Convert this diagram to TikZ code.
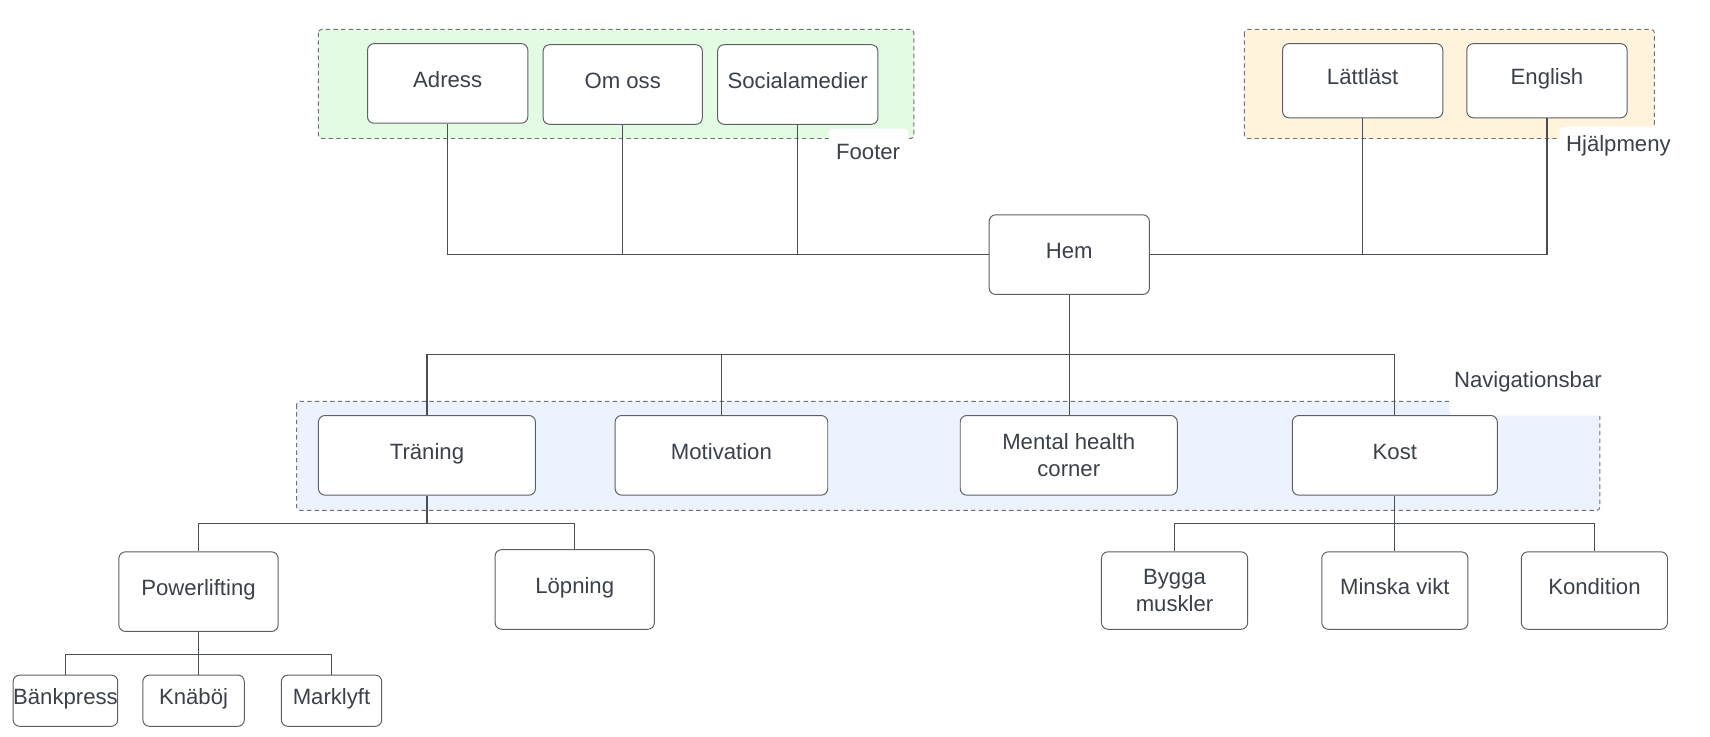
\documentclass[tikz,border=0pt]{standalone}
\usepackage{fontspec}
\setmainfont{Liberation Sans}
\definecolor{txt}{HTML}{3A414A}
\definecolor{boxc}{HTML}{5C6066}
\definecolor{linec}{HTML}{4A4F55}
\definecolor{grpc}{HTML}{6E7378}
\definecolor{fgreen}{HTML}{E3FAE3}
\definecolor{forange}{HTML}{FFF3DC}
\definecolor{fblue}{HTML}{ECF3FE}
\begin{document}
\begin{tikzpicture}[x=1pt,y=-1pt,
  box/.style={draw=boxc, rounded corners=6pt, fill=white, line width=0.9pt, text=txt, align=center, inner sep=0pt, font=\fontsize{20.3}{24.5}\selectfont},
  one/.style={text height=14.6pt, text depth=7.4pt},
  conn/.style={draw=linec, line width=1pt},
  grp/.style={draw=grpc, dash pattern=on 4pt off 3pt, line width=0.9pt, rounded corners=3pt},
  patch/.style={fill=white, draw=none, rounded corners=4pt},
  lbl/.style={text=txt, inner sep=0pt, font=\fontsize{20.3}{24.5}\selectfont}]
\useasboundingbox (0,0) rectangle (1568,675);
% groups
\draw[grp, fill=fgreen] (292,27) rectangle (838,127);
\draw[grp, fill=forange] (1141,27) rectangle (1517,127);
\draw[grp, fill=fblue] (272,368) rectangle (1467,468);
% label patches
\fill[patch] (760,118) rectangle (833,160);
\fill[patch] (1430,116) rectangle (1540,152);
\fill[patch] (1329,335) rectangle (1475,381);
\node[lbl] (lfooter) at (796,139) {Footer};
\node[lbl] (lhjalp) at (1484,134) {Hjälpmeny};
\node[lbl] (lnav) at (1401,350) {Navigationsbar};
% nodes
\node[box, one, minimum width=147pt, minimum height=73pt] (adress) at (410.5,76.5) {Adress};
\node[box, one, minimum width=146pt, minimum height=73pt] (omoss) at (571,77.5) {Om oss};
\node[box, one, minimum width=147pt, minimum height=73pt] (social) at (731.5,77.5) {Socialamedier};
\node[box, one, minimum width=147pt, minimum height=68pt] (lattlast) at (1249.5,74) {Lättläst};
\node[box, one, minimum width=147pt, minimum height=68pt] (english) at (1418.5,74) {English};
\node[box, one, minimum width=147pt, minimum height=73pt] (hem) at (980.5,233.5) {Hem};
\node[box, one, minimum width=199pt, minimum height=73pt] (traning) at (391.5,417.5) {Träning};
\node[box, one, minimum width=195pt, minimum height=73pt] (motivation) at (661.5,417.5) {Motivation};
\node[box, minimum width=199pt, minimum height=73pt] (mental) at (980,417.5) {Mental health\\corner};
\node[box, one, minimum width=188pt, minimum height=73pt] (kost) at (1279,417.5) {Kost};
\node[box, one, minimum width=146pt, minimum height=73pt] (power) at (182,542.5) {Powerlifting};
\node[box, one, minimum width=146pt, minimum height=73pt] (lopning) at (527,540.5) {Löpning};
\node[box, one, minimum width=92pt, minimum height=47pt] (bank) at (60,642.5) {Bänkpress};
\node[box, one, minimum width=93pt, minimum height=47pt] (knaboj) at (177.5,642.5) {Knäböj};
\node[box, one, minimum width=92pt, minimum height=47pt] (marklyft) at (304,642.5) {Marklyft};
\node[box, minimum width=134pt, minimum height=71pt] (bygga) at (1077,541.5) {Bygga\\muskler};
\node[box, one, minimum width=134pt, minimum height=71pt] (minska) at (1279,541.5) {Minska vikt};
\node[box, one, minimum width=134pt, minimum height=71pt] (kondition) at (1462,541.5) {Kondition};
% junction coordinates
\coordinate (jhem) at (980.5,325);
\coordinate (jtr) at (391.5,480);
\coordinate (jpw) at (182,600);
\coordinate (jko) at (1279,480);
% connectors
\draw[conn] (adress.south) |- (hem.west);
\draw[conn] (omoss.south) -- (omoss.south |- hem.west);
\draw[conn] (social.south) -- (social.south |- hem.west);
\draw[conn] (hem.east) -| (english.south);
\draw[conn] (lattlast.south) -- (lattlast.south |- hem.east);
\draw[conn] (hem.south) -- (jhem) -| (traning.north);
\draw[conn] (jhem) -| (motivation.north);
\draw[conn] (jhem) -- (jhem |- mental.north);
\draw[conn] (jhem) -| (kost.north);
\draw[conn] (traning.south) -- (jtr) -| (power.north);
\draw[conn] (jtr) -| (lopning.north);
\draw[conn] (power.south) -- (jpw) -| (bank.north);
\draw[conn] (jpw) -- (jpw |- knaboj.north);
\draw[conn] (jpw) -| (marklyft.north);
\draw[conn] (kost.south) -- (minska.north);
\draw[conn] (jko) -| (bygga.north);
\draw[conn] (jko) -| (kondition.north);
\end{tikzpicture}
\end{document}
